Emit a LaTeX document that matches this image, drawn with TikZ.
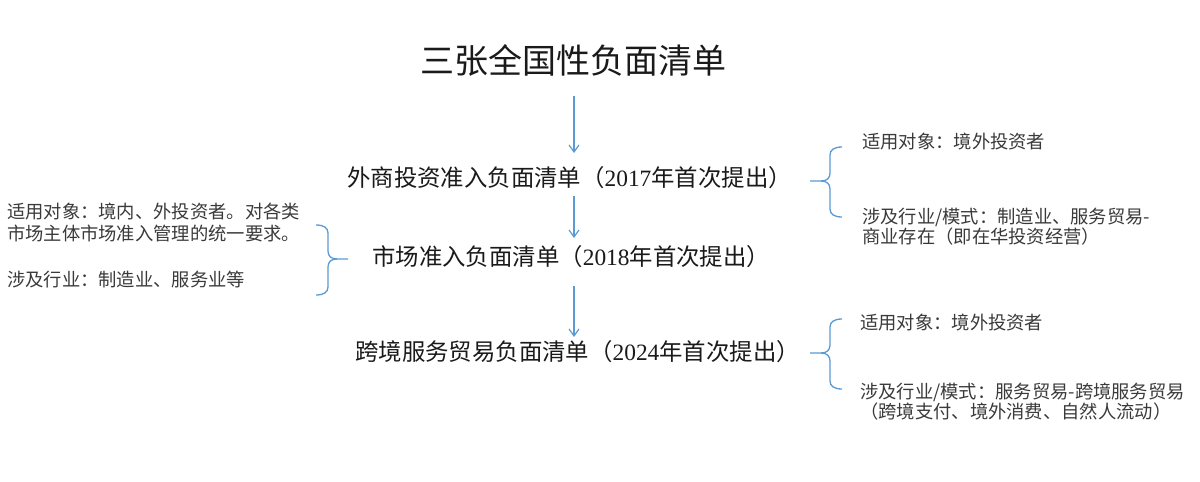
\documentclass[tikz,border=0pt]{standalone}
\usepackage{fontspec}
\setmainfont{Liberation Serif}
\newfontfamily\cjk{Noto Sans CJK SC}
\usetikzlibrary{arrows.meta}
\definecolor{bl}{HTML}{5B9BD5}
\definecolor{tx}{HTML}{1A1A1A}
\definecolor{sm}{HTML}{3A3A3A}
\begin{document}
\begin{tikzpicture}[x=1pt,y=-1pt,
  ttl/.style={inner sep=0,anchor=west,text=tx,font=\fontsize{34}{40}\selectfont\cjk},
  main/.style={inner sep=0,anchor=west,text=tx,font=\fontsize{23.4}{28}\selectfont\cjk},
  note/.style={inner sep=0,anchor=north west,align=left,text=sm},
  arr/.style={draw=bl,line width=1.2pt,-{Straight Barb[length=7pt,width=10pt,line width=1.2pt]}},
  brc/.style={draw=bl,line width=1.3pt},
  lbrace/.pic={\draw[brc] (0,0) -- (11,0) .. controls (17,0) and (20,-3) .. (20,-8) -- (20,-26)
      .. controls (20,-31) and (24,-34) .. (32,-34);
    \draw[brc] (11,0) .. controls (17,0) and (20,3) .. (20,8) -- (20,28)
      .. controls (20,33) and (24,36) .. (32,36);}
]
\useasboundingbox (0,0) rectangle (1200,482);
\fill[white] (0,0) rectangle (1200,482);

\node[ttl] (title) at (420,60) {三张全国性负面清单};
\node[main] (l1) at (347,178) {外商投资准入负面清单（{\rmfamily 2017}年首次提出）};
\node[main] (l2) at (372,257) {市场准入负面清单（{\rmfamily 2018}年首次提出）};
\node[main] (l3) at (355,352) {跨境服务贸易负面清单（{\rmfamily 2024}年首次提出）};

\draw[arr] (title.south -| 574,0) ++(0,20) -- (574,153);
\draw[arr] (l1.south -| 574,0) ++(0,7) -- (574,238);
\draw[arr] (l2.south -| 574,0) ++(0,18) -- (574,337);

% right notes, list 1
\pic at (810,181) {lbrace};
\node[note,font=\fontsize{18.3}{18.3}\selectfont\cjk] (r1a) at (862,133) {适用对象：境外投资者};
\node[note,font=\fontsize{18.3}{18.3}\selectfont\cjk] (r1b) at (862,208) {涉及行业/模式：制造业、服务贸易-\\商业存在（即在华投资经营）};

% left notes, list 2
\pic[xscale=-1] at (348,259) {lbrace};
\node[note,font=\fontsize{18.3}{21.5}\selectfont\cjk] (m1) at (7,203) {适用对象：境内、外投资者。对各类\\市场主体市场准入管理的统一要求。};
\node[note,font=\fontsize{18.3}{21.5}\selectfont\cjk] (m2) at (7,271) {涉及行业：制造业、服务业等};

% right notes, list 3
\pic at (810,353) {lbrace};
\node[note,font=\fontsize{18.3}{20}\selectfont\cjk] (r3a) at (860,314) {适用对象：境外投资者};
\node[note,font=\fontsize{18.3}{20}\selectfont\cjk] (r3b) at (860,383) {涉及行业/模式：服务贸易-跨境服务贸易\\（跨境支付、境外消费、自然人流动）};
\end{tikzpicture}
\end{document}
